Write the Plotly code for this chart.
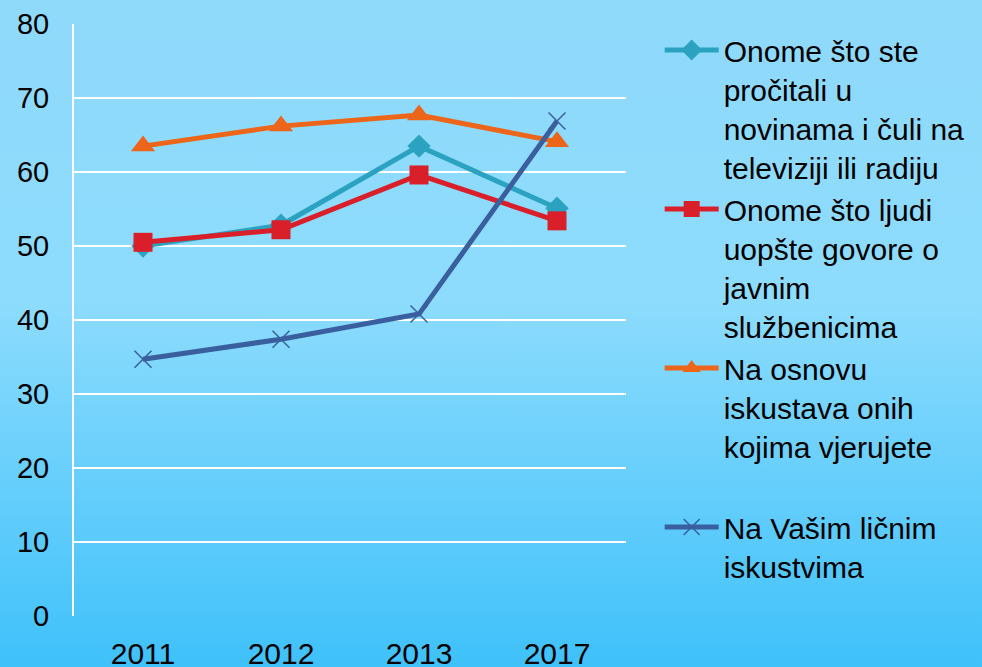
import base64
import plotly.graph_objects as go

years = ["2011", "2012", "2013", "2017"]
procitali = [50.0, 52.8, 63.5, 55.1]
ljudi_govore = [50.5, 52.2, 59.6, 53.4]
iskustva_onih = [63.5, 66.2, 67.7, 64.1]
licna_iskustva = [34.7, 37.4, 40.8, 66.9]

names = [
    "Onome što ste<br>pročitali u<br>novinama i čuli na<br>televiziji ili radiju",
    "Onome što ljudi<br>uopšte govore o<br>javnim<br>službenicima",
    "Na osnovu<br>iskustava onih<br>kojima vjerujete<br> ",
    "Na Vašim ličnim<br>iskustvima",
]

W, H = 982, 667
L, R, T, B = 74, 356, 24, 51
pw, ph = W - L - R, H - T - B

# background gradient as an svg image
svg = ('<svg xmlns="http://www.w3.org/2000/svg" width="982" height="667">'
       '<defs><linearGradient id="g" x1="0" y1="0" x2="0" y2="1">'
       '<stop offset="0" stop-color="#8fd9fb"/><stop offset="0.45" stop-color="#8ddcfd"/>'
       '<stop offset="1" stop-color="#3fc1fa"/></linearGradient></defs>'
       '<rect width="982" height="667" fill="url(#g)"/></svg>')
bg = "data:image/svg+xml;base64," + base64.b64encode(svg.encode()).decode()

font = "Liberation Sans, Arial, sans-serif"

fig = go.Figure()
fig.add_trace(go.Scatter(x=years, y=procitali, name=names[0], mode="lines+markers",
                         line=dict(color="#2ba3c0", width=5),
                         marker=dict(symbol="diamond", size=18, color="#2ba3c0")))
fig.add_trace(go.Scatter(x=years, y=ljudi_govore, name=names[1], mode="lines+markers",
                         line=dict(color="#d91f2a", width=5),
                         marker=dict(symbol="square", size=19, color="#d91f2a")))
fig.add_trace(go.Scatter(x=years, y=iskustva_onih, name=names[2], mode="lines+markers",
                         line=dict(color="#ec6519", width=5),
                         marker=dict(symbol="triangle-up", size=21, color="#ec6519")))
fig.add_trace(go.Scatter(x=years, y=licna_iskustva, name=names[3], mode="lines+markers",
                         line=dict(color="#3a5f9e", width=5),
                         marker=dict(symbol="x-thin", size=17, color="#3a5f9e",
                                     line=dict(color="#3a5f9e", width=1.5))))

fig.update_layout(
    width=W, height=H,
    margin=dict(l=L, r=R, t=T, b=B, autoexpand=False),
    paper_bgcolor="#7cd4fc",
    plot_bgcolor="rgba(0,0,0,0)",
    font=dict(family=font, size=30, color="#000000"),
    showlegend=True,
    legend=dict(x=1.061, y=1.0, xanchor="left", yanchor="top", valign="top",
                bgcolor="rgba(0,0,0,0)", font=dict(size=30),
                itemwidth=54, tracegroupgap=10, maxheight=660),
    xaxis=dict(type="category", range=[-0.5, 3.5], showgrid=False, zeroline=False,
               showline=False, ticks="", ticklabelstandoff=17,
               tickfont=dict(size=30)),
    yaxis=dict(range=[0, 80], dtick=10, showgrid=True, gridcolor="#ffffff", gridwidth=2,
               zeroline=False, showline=True, linecolor="#ffffff", linewidth=2,
               ticks="", ticklabelstandoff=17, tickfont=dict(size=29)),
    images=[dict(source=bg, xref="paper", yref="paper", x=-L / pw, y=1 + T / ph,
                 sizex=W / pw, sizey=H / ph, sizing="stretch", layer="below",
                 xanchor="left", yanchor="top")],
)

fig.write_html("out.html", config={"displayModeBar": False},
               post_script="document.body.style.margin='0';document.body.style.overflow='hidden';")
